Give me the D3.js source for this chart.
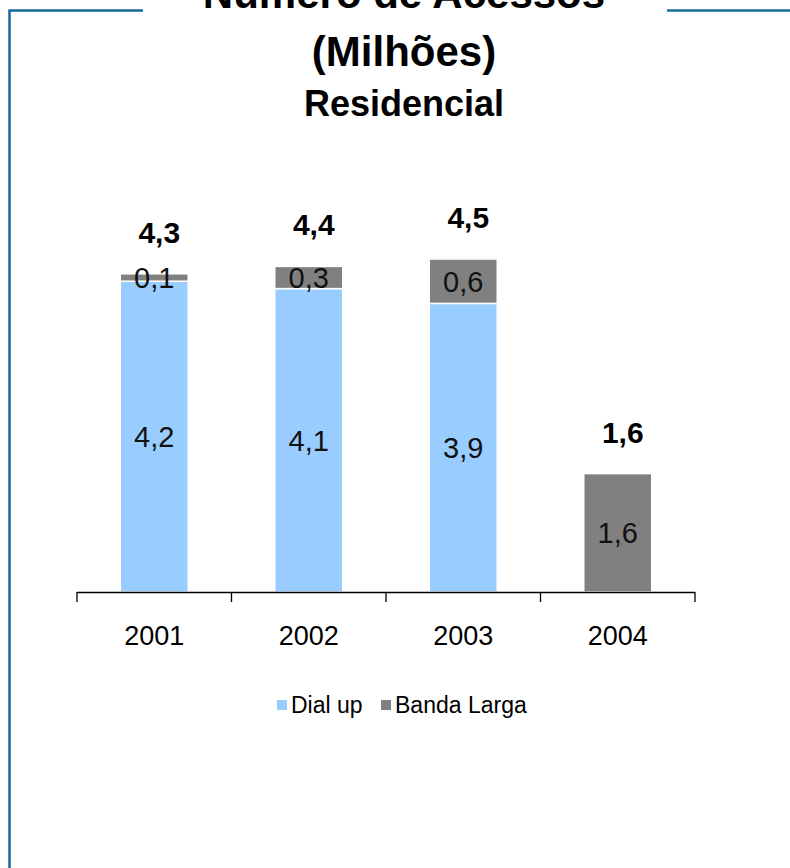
<!DOCTYPE html>
<html>
<head>
<meta charset="utf-8">
<script src="https://cdn.jsdelivr.net/npm/d3@7"></script>
<style>
  html, body { margin: 0; padding: 0; background: #fff; }
  svg { display: block; font-family: "Liberation Sans", Arial, sans-serif; }
</style>
</head>
<body>
<div class="container"></div>
<script>
// DATA
const years = ["2001", "2002", "2003", "2004"];
const dialUp = [4.2, 4.1, 3.9, 0];
const bandaLarga = [0.1, 0.3, 0.6, 1.6];
const totals = ["4,3", "4,4", "4,5", "1,6"];
const seriesNames = ["Dial up", "Banda Larga"];
const seriesColors = ["#99ccff", "#808080"];

const width = 790, height = 868;

const svg = d3.select(".container")
  .append("svg")
  .attr("width", width)
  .attr("height", height);

// FRAME (blue line broken by the title)
const frameColor = "#1a6a9b";
svg.append("path")
  .attr("d", "M143,10.5 H9.5 V868")
  .attr("fill", "none")
  .attr("stroke", frameColor)
  .attr("stroke-width", 2.5);
svg.append("line")
  .attr("x1", 667).attr("x2", 790)
  .attr("y1", 10.5).attr("y2", 10.5)
  .attr("stroke", frameColor)
  .attr("stroke-width", 2.5);

// TITLE (first line is cut by the top edge, as in the source)
svg.append("text")
  .attr("x", 404).attr("y", 8)
  .attr("text-anchor", "middle")
  .attr("font-weight", "bold")
  .attr("font-size", 42)
  .text("Número de Acessos");
svg.append("text")
  .attr("x", 404).attr("y", 66)
  .attr("text-anchor", "middle")
  .attr("font-weight", "bold")
  .attr("font-size", 42)
  .text("(Milhões)");
svg.append("text")
  .attr("x", 404).attr("y", 116)
  .attr("text-anchor", "middle")
  .attr("font-weight", "bold")
  .attr("font-size", 36)
  .text("Residencial");

// SCALES
const pad = 0.56;
const x = d3.scaleBand()
  .domain(years)
  .range([77, 695])
  .paddingInner(pad)
  .paddingOuter(pad / 2);

const baseY = 592;
const y = d3.scaleLinear()
  .domain([0, 5])
  .range([baseY, baseY - 370]);

// stacked data
const rows = years.map((yr, i) => ({ year: yr, dial: dialUp[i], banda: bandaLarga[i] }));
const layers = d3.stack().keys(["dial", "banda"])(rows);

const fmt = v => d3.format(".1f")(v).replace(".", ",");

const bars = svg.append("g");
layers.forEach((layer, li) => {
  bars.selectAll(null)
    .data(layer.filter(d => d[1] - d[0] > 0))
    .enter()
    .append("rect")
    .attr("x", d => x(d.data.year))
    .attr("width", x.bandwidth())
    .attr("y", d => y(d[1]))
    .attr("height", d => y(d[0]) - y(d[1]))
    .attr("fill", seriesColors[li])
    .attr("stroke", "#fff")
    .attr("stroke-width", 1.5);
});

// segment labels
layers.forEach((layer, li) => {
  svg.append("g").selectAll("text")
    .data(layer.filter(d => d[1] - d[0] > 0))
    .enter()
    .append("text")
    .attr("x", d => x(d.data.year) + x.bandwidth() / 2)
    .attr("y", d => (y(d[0]) + y(d[1])) / 2)
    .attr("dy", "0.36em")
    .attr("text-anchor", "middle")
    .attr("font-size", 29)
    .attr("fill", "#111")
    .text(d => fmt(d[1] - d[0]));
});

// total labels
svg.append("g").selectAll("text")
  .data(rows)
  .enter()
  .append("text")
  .attr("x", d => x(d.year) + x.bandwidth() / 2 + 5)
  .attr("y", d => y(d.dial + d.banda) - 31)
  .attr("text-anchor", "middle")
  .attr("font-weight", "bold")
  .attr("font-size", 30)
  .text((d, i) => totals[i]);

// AXIS: baseline with ticks at category boundaries
const step = x.step();
const bounds = years.map(yr => x(yr) - step * pad / 2).concat([695]);
const axis = svg.append("g");
axis.append("line")
  .attr("x1", 77).attr("x2", 695)
  .attr("y1", baseY + 0.5).attr("y2", baseY + 0.5)
  .attr("stroke", "#000").attr("stroke-width", 1.3);
axis.selectAll(".tick")
  .data(bounds)
  .enter()
  .append("line")
  .attr("x1", d => d).attr("x2", d => d)
  .attr("y1", baseY).attr("y2", baseY + 10)
  .attr("stroke", "#000").attr("stroke-width", 1.3);
axis.selectAll("text")
  .data(years)
  .enter()
  .append("text")
  .attr("x", d => x(d) + x.bandwidth() / 2)
  .attr("y", 645)
  .attr("text-anchor", "middle")
  .attr("font-size", 27)
  .text(d => d);

// LEGEND
const legend = svg.append("g").attr("transform", "translate(277, 705)");
const legendX = [0, 104];
seriesNames.forEach((name, i) => {
  legend.append("rect")
    .attr("x", legendX[i]).attr("y", -5)
    .attr("width", 10).attr("height", 10)
    .attr("fill", seriesColors[i]);
  legend.append("text")
    .attr("x", legendX[i] + 14).attr("y", 0)
    .attr("dy", "0.36em")
    .attr("font-size", 23)
    .text(name);
});
</script>
</body>
</html>
